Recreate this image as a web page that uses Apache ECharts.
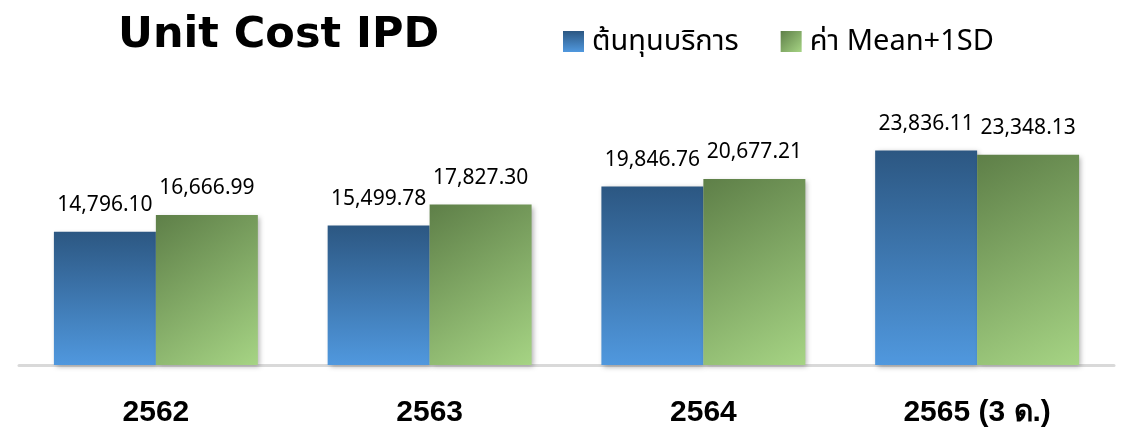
<!DOCTYPE html>
<html>
<head>
<meta charset="utf-8">
<script src="https://cdn.jsdelivr.net/npm/echarts@6/dist/echarts.min.js"></script>
<style>
	html, body { margin: 0; padding: 0; background: #fff; }
	#chart { width: 1122px; height: 430px; }
</style>
</head>
<body>
<div id="chart"></div>
<script>
	var categories = ['2562', '2563', '2564', '2565 (3 ด.)'];
	var seriesNames = ['ต้นทุนบริการ', 'ค่า Mean+1SD'];
	var costValues = [14796.10, 15499.78, 19846.76, 23836.11];
	var meanSdValues = [16666.99, 17827.30, 20677.21, 23348.13];

	var font = '"Noto Sans", "Noto Sans Thai", "DejaVu Sans", sans-serif';

	var blueFill = new echarts.graphic.LinearGradient(0, 0, 0, 1, [
		{ offset: 0, color: 'rgb(44,87,130)' },
		{ offset: 1, color: 'rgb(80,152,222)' }
	]);
	var greenFill = new echarts.graphic.LinearGradient(0, 0, 1, 1, [
		{ offset: 0, color: 'rgb(94,127,72)' },
		{ offset: 1, color: 'rgb(166,212,132)' }
	]);

	function fmt(v) {
		return v.toLocaleString('en-US', { minimumFractionDigits: 2, maximumFractionDigits: 2 });
	}

	var chart = echarts.init(document.getElementById('chart'));
	chart.setOption({
		animation: false,
		title: {
			text: 'Unit Cost IPD',
			left: 113,
			top: 9,
			textStyle: {
				fontFamily: '"DejaVu Sans", sans-serif',
				fontSize: 43,
				fontWeight: 'bold',
				color: '#000'
			}
		},
		legend: {
			left: 558,
			top: 22,
			itemWidth: 21,
			itemHeight: 21,
			itemGap: 42,
			icon: 'rect',
			textStyle: {
				fontFamily: font,
				fontSize: 29,
				color: '#000',
				padding: [0, 0, 0, 3]
			},
			data: seriesNames
		},
		grid: {
			left: 19,
			right: 8,
			top: 95,
			bottom: 65,
			containLabel: false
		},
		xAxis: {
			type: 'category',
			data: categories,
			axisLine: { show: true, lineStyle: { color: '#d9d9d9', width: 3 } },
			axisTick: { show: false },
			axisLabel: {
				margin: 33,
				fontFamily: '"Liberation Sans", Arial, sans-serif',
				fontSize: 30,
				fontWeight: 'bold',
				color: '#000'
			}
		},
		yAxis: {
			type: 'value',
			min: 0,
			max: 30000,
			show: false,
			splitLine: { show: false }
		},
		series: [{
			name: seriesNames[0],
			type: 'bar',
			data: costValues,
			barGap: '0%',
			barCategoryGap: '25.5%',
			itemStyle: {
				color: blueFill,
				shadowBlur: 5,
				shadowOffsetX: 2,
				shadowOffsetY: 2,
				shadowColor: 'rgba(0,0,0,0.3)'
			},
			label: {
				show: true,
				position: 'top',
				distance: 16,
				fontFamily: font,
				fontSize: 21,
				color: '#000',
				formatter: function (p) { return fmt(p.value); }
			}
		}, {
			name: seriesNames[1],
			type: 'bar',
			data: meanSdValues,
			itemStyle: {
				color: greenFill,
				shadowBlur: 5,
				shadowOffsetX: 2,
				shadowOffsetY: 2,
				shadowColor: 'rgba(0,0,0,0.3)'
			},
			label: {
				show: true,
				position: 'top',
				distance: 16,
				fontFamily: font,
				fontSize: 21,
				color: '#000',
				formatter: function (p) { return fmt(p.value); }
			}
		}]
	});
</script>
</body>
</html>
